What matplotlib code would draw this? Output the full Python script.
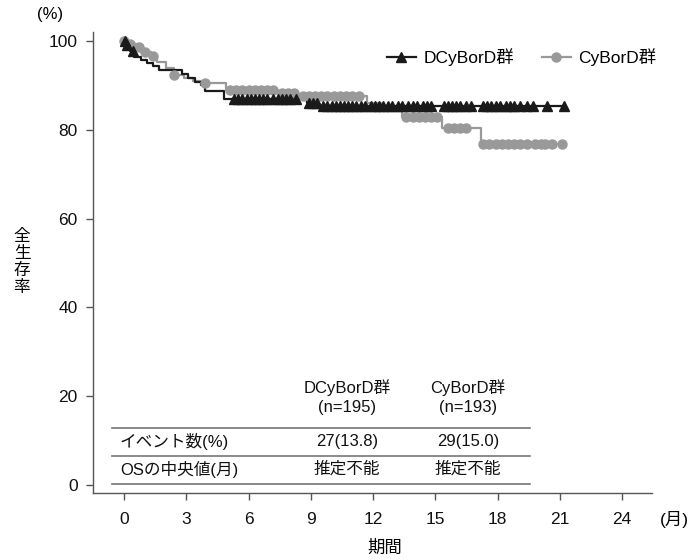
import numpy as np
import matplotlib
matplotlib.use("Agg")
import matplotlib.pyplot as plt
from matplotlib.lines import Line2D

plt.rcParams['font.family'] = ['Liberation Sans', 'Noto Sans CJK JP', 'DejaVu Sans']

# step curves (months, survival %)
dcybord_t = [0, 0.1, 0.3, 0.5, 0.8, 1.1, 1.4, 1.7, 2.8, 3.1, 3.4, 3.7, 3.9, 4.8, 8.8, 9.4]
dcybord_s = [100, 99.0, 97.8, 96.4, 95.8, 95.0, 94.3, 93.5, 92.6, 91.6, 90.8, 90.0, 88.7, 86.9, 86.1, 85.4]
dcybord_end = 21.2
dcybord_cens = [0.05, 0.15, 0.45, 5.3, 5.5, 5.7, 5.9, 6.1, 6.3, 6.5, 6.7, 6.9,
                7.2, 7.4, 7.6, 7.8, 8.0, 8.3, 8.9, 9.1, 9.3,
                9.6, 9.8, 10.0, 10.2, 10.4, 10.6, 10.8, 11.0, 11.2, 11.4, 11.6,
                11.9, 12.1, 12.3, 12.5, 12.7, 12.9, 13.2, 13.4,
                13.7, 13.9, 14.1, 14.4, 14.6, 14.8,
                15.4, 15.6, 15.8, 16.0, 16.2, 16.5, 16.7,
                17.3, 17.5, 17.7, 17.9, 18.1, 18.4, 18.6, 18.8, 19.1, 19.4, 19.7,
                20.4, 21.2]

cybord_t = [0, 0.2, 0.6, 0.9, 1.3, 1.6, 2.0, 2.4, 2.9, 3.3, 3.7, 4.9, 7.4, 8.4, 11.7, 12.4, 13.4, 15.3, 17.2]
cybord_s = [100, 99.3, 98.6, 97.6, 96.6, 95.2, 94.0, 92.3, 91.6, 91.0, 90.6, 89.0, 88.4, 87.6, 86.0, 85.0, 83.0, 80.4, 76.8]
cybord_end = 21.1
cybord_cens = [0.0, 0.3, 0.7, 1.0, 1.4, 2.4, 3.9, 5.1, 5.4, 5.7, 6.0, 6.3, 6.6, 6.9, 7.2,
               7.6, 7.9, 8.2, 8.6, 8.9, 9.2, 9.5, 9.8, 10.1, 10.4, 10.7, 11.0, 11.3,
               13.6, 13.9, 14.2, 14.5, 14.8, 15.1, 15.6, 15.9, 16.2, 16.5,
               17.3, 17.6, 17.9, 18.2, 18.5, 18.8, 19.1, 19.4, 19.8, 20.1, 20.3, 20.6, 21.1]

# table
table_cols = ['DCyBorD群\n(n=195)', 'CyBorD群\n(n=193)']
table_rows = ['イベント数(%)', 'OSの中央値(月)']
table_cells = [['27(13.8)', '29(15.0)'], ['推定不能', '推定不能']]

xticks = [0, 3, 6, 9, 12, 15, 18, 21, 24]
yticks = [0, 20, 40, 60, 80, 100]

BLACK = '#1a1a1a'
GRAY = '#999999'
AXC = '#555555'


def step_at(t, s, x):
    idx = np.searchsorted(t, x, side='right') - 1
    return np.asarray(s)[idx]


fig = plt.figure(figsize=(6.99, 5.6), dpi=100)
ax = fig.add_axes([0.133, 0.1196, 0.8, 0.823])

for t, s, end, cens, col, mk, ms in [
        (cybord_t, cybord_s, cybord_end, cybord_cens, GRAY, 'o', 6.5),
        (dcybord_t, dcybord_s, dcybord_end, dcybord_cens, BLACK, '^', 6.5)]:
    tt = list(t) + [end]
    ss = list(s) + [s[-1]]
    ax.step(tt, ss, where='post', color=col, lw=1.6, zorder=3)
    ax.plot(cens, step_at(t, s, cens), ls='none', marker=mk, ms=ms,
            color=col, mec=col, zorder=4)

ax.set_xlim(-1.5, 25.45)
ax.set_ylim(-1.8, 102)
ax.set_xticks(xticks)
ax.set_yticks(yticks)
ax.tick_params(direction='out', length=5, width=1, color=AXC,
               labelsize=12.5, pad=6, labelcolor='#111111')
ax.tick_params(axis='x', pad=9)
for side in ['top', 'right']:
    ax.spines[side].set_visible(False)
for side in ['left', 'bottom']:
    ax.spines[side].set_color(AXC)
    ax.spines[side].set_linewidth(1)

handles = [Line2D([], [], color=BLACK, lw=1.6, marker='^', ms=6.5),
           Line2D([], [], color=GRAY, lw=1.6, marker='o', ms=6.5)]
ax.legend(handles, ['DCyBorD群', 'CyBorD群'], loc='upper right',
          bbox_to_anchor=(1.035, 1.0), ncol=2, frameon=False, fontsize=12.5,
          handlelength=1.7, handletextpad=0.4, columnspacing=1.6)

# table drawn inside the axes
col_x = [10.75, 16.58]
for cx, lab in zip(col_x, table_cols):
    ax.text(cx, 19.8, lab, ha='center', va='center', fontsize=12,
            linespacing=1.35, color='#111111')
for yl in [12.8, 6.5, 0.2]:
    ax.plot([-0.58, 19.57], [yl, yl], color='#777777', lw=1.2, zorder=2)
row_y = [9.7, 3.6]
for ry, lab, cells in zip(row_y, table_rows, table_cells):
    ax.text(-0.2, ry, lab, ha='left', va='center', fontsize=12, color='#111111')
    for cx, c in zip(col_x, cells):
        ax.text(cx, ry, c, ha='center', va='center', fontsize=12, color='#111111')

fig.text(50 / 699, 1 - 14 / 560, '(%)', ha='center', va='center', fontsize=12)
fig.text(22 / 699, 1 - 262 / 560, '全\n生\n存\n率', ha='center', va='center',
         fontsize=12, linespacing=1.15)
fig.text(674 / 699, 1 - 519 / 560, '(月)', ha='center', va='center', fontsize=12.5)
fig.text(385 / 699, 1 - 548 / 560, '期間', ha='center', va='center', fontsize=12.5)

fig.savefig('out.png', dpi=100)
